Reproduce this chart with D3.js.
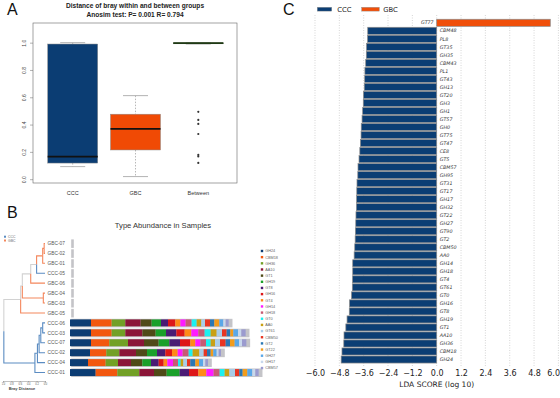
<!DOCTYPE html>
<html>
<head>
<meta charset="utf-8">
<script src="https://cdn.jsdelivr.net/npm/d3@7"></script>
<style>
  html, body { margin: 0; padding: 0; background: #fff; }
  svg { display: block; }
</style>
</head>
<body>
<div id="chart"></div>
<script>
// ---------- Panel A: bray distance boxplots ----------
const boxGroups = ['CCC', 'GBC', 'Between'];
const boxMin = [0.092, 0.019, 0.99];
const boxQ1 = [0.118, 0.214, 0.993];
const boxMedian = [0.165, 0.368, 0.997];
const boxQ3 = [0.99, 0.476, 0.999];
const boxMax = [1.0, 0.612, 1.0];
const boxFill = ['#0b3d73', '#f04a05', '#2f5a22'];
const betweenOutliers = [0.493, 0.434, 0.405, 0.331, 0.178, 0.166, 0.119];
const boxTicks = [0, 0.2, 0.4, 0.6, 0.8, 1.0];

// ---------- Panel B: dendrogram + type abundance ----------
const sampleOrder = ['GBC-07', 'GBC-02', 'GBC-01', 'CCC-05', 'GBC-06', 'GBC-04', 'GBC-03',
  'GBC-05', 'CCC-06', 'CCC-03', 'CCC-07', 'CCC-02', 'CCC-04', 'CCC-01'];

// clustering tree, h = bray distance of the merge
const dendroTree = { h: 0.98, children: [
  { h: 0.58, children: [
    { h: 0.54, children: [
      { h: 0.34, children: [
        { h: 0.2, children: [
          { h: 0.055, children: [
            { h: 0.02, children: [{ name: 'GBC-07' }, { name: 'GBC-02' }] },
            { name: 'GBC-01' }] },
          { name: 'CCC-05' }] },
        { name: 'GBC-06' }] },
      { h: 0.04, children: [{ name: 'GBC-04' }, { name: 'GBC-03' }] }] },
    { name: 'GBC-05' }] },
  { h: 0.24, children: [
    { h: 0.18, children: [
      { h: 0.14, children: [
        { h: 0.1, children: [
          { h: 0.055, children: [{ name: 'CCC-06' }, { name: 'CCC-03' }] },
          { name: 'CCC-07' }] },
        { name: 'CCC-02' }] },
      { name: 'CCC-04' }] },
    { name: 'CCC-01' }] }
] };
const distanceTicks = [1.0, 0.8, 0.6, 0.4, 0.2, 0.0];

const abundanceTypes = ['GH24', 'CBM18', 'GH36', 'AA10', 'GT1', 'GH19', 'GT8', 'GH16', 'GT4', 'GH14',
  'GH18', 'GT0', 'AA0', 'GT61', 'CBM50', 'GT2', 'GT22', 'GH27', 'GH17', 'CBM57'];
const typeColors = ['#0b3c73', '#f2570f', '#72a026', '#8b1538', '#4f4a17', '#1aa02a', '#4a1b74', '#dd1718',
  '#ff8a17', '#ff1aff', '#c85a73', '#1cf0f0', '#c9a014', '#a9cde8', '#e83522', '#2a78b5', '#f29c1c',
  '#5aa8e8', '#c8d8ec', '#9b9bcf'];
const abundanceSamples = ['CCC-06', 'CCC-03', 'CCC-07', 'CCC-02', 'CCC-04', 'CCC-01'];
const abundanceValues = [
  [63, 62, 41, 46, 33, 28, 21, 22, 15, 16, 18, 15, 14, 11, 15, 13, 15, 12, 7, 9],
  [63, 62, 41, 51, 40, 31, 31, 25, 20, 21, 19, 18, 18, 16, 14, 11, 9, 14, 10, 13],
  [63, 55, 56, 48, 44, 32, 32, 31, 15, 15, 17, 14, 13, 15, 17, 13, 14, 13, 9, 13],
  [60, 49, 39, 50, 33, 30, 25, 20, 17, 15, 18, 12, 20, 13, 10, 11, 8, 10, 6, 7],
  [54, 53, 37, 39, 34, 26, 23, 15, 11, 17, 15, 8, 8, 11, 10, 15, 11, 12, 7, 8],
  [77, 65, 66, 44, 38, 39, 28, 28, 24, 22, 18, 15, 14, 17, 13, 10, 14, 15, 9, 10]
];

// ---------- Panel C: LEfSe LDA scores ----------
const ldaFeatures = ['GT77', 'CBM48', 'PL8', 'GT35', 'GH35', 'CBM43', 'PL1', 'GT43', 'GH13', 'GT20',
  'GH3', 'GH1', 'GT57', 'GH0', 'GT75', 'GT47', 'CE8', 'GT5', 'CBM57', 'GH95', 'GT31', 'GT17', 'GH17',
  'GH32', 'GT22', 'GH27', 'GT90', 'GT2', 'CBM50', 'AA0', 'GH14', 'GH18', 'GT4', 'GT61', 'GT0', 'GH16',
  'GT8', 'GH19', 'GT1', 'AA10', 'GH36', 'CBM18', 'GH24'];
const ldaScores = [5.6, -3.40, -3.41, -3.46, -3.47, -3.50, -3.54, -3.55, -3.57, -3.61,
  -3.62, -3.65, -3.68, -3.72, -3.73, -3.76, -3.79, -3.83, -3.88, -3.89, -3.93, -3.94, -3.95,
  -3.96, -3.98, -3.99, -4.01, -4.02, -4.04, -4.07, -4.14, -4.14, -4.15, -4.16, -4.20, -4.30,
  -4.31, -4.42, -4.48, -4.57, -4.58, -4.67, -4.71];
const ldaGroups = ['CCC', 'GBC'];
const ldaColors = ['#0b3e74', '#f04f0a'];
const ldaTicks = [-6.0, -4.8, -3.6, -2.4, -1.2, 0.0, 1.2, 2.4, 3.6, 4.8, 6.0];

const W = 560, H = 398;
const sansA = 'Liberation Sans, Arial, Helvetica, sans-serif';
const sansC = 'DejaVu Sans, sans-serif';

const svg = d3.select('#chart').append('svg')
  .attr('width', W).attr('height', H)
  .attr('viewBox', `0 0 ${W} ${H}`);

// panel letters
[['A', 7, 15], ['B', 7, 218], ['C', 283, 15]].forEach(([t, x, y]) => {
  svg.append('text').attr('x', x).attr('y', y).text(t)
    .attr('font-family', sansA).attr('font-size', 16).attr('fill', '#111');
});

// ================= Panel A =================
const gA = svg.append('g').attr('font-family', sansA);
const yA = d3.scaleLinear().domain([-0.028, 1.144]).range([183, 23]);
const xA = d3.scalePoint().domain(boxGroups).range([72.7, 198.3]);
const boxW = 50;

gA.append('text').attr('x', 135).attr('y', 8).attr('text-anchor', 'middle')
  .attr('font-size', 6.6).attr('font-weight', 'bold').attr('fill', '#222')
  .text('Distance of bray within and between groups');
gA.append('text').attr('x', 135).attr('y', 16.5).attr('text-anchor', 'middle')
  .attr('font-size', 6.6).attr('font-weight', 'bold').attr('fill', '#222')
  .text('Anosim test: P= 0.001  R= 0.794');

gA.append('rect').attr('x', 33).attr('y', 23).attr('width', 204).attr('height', 160)
  .attr('fill', 'none').attr('stroke', '#666').attr('stroke-width', 0.6);

const yAxisA = gA.append('g').attr('transform', 'translate(33,0)')
  .call(d3.axisLeft(yA).tickValues(boxTicks).tickSize(3).tickFormat(d3.format('.1f')));
yAxisA.select('.domain').remove();
yAxisA.selectAll('line').attr('stroke', '#666').attr('stroke-width', 0.5);
yAxisA.selectAll('text')
  .attr('transform', 'rotate(-90)').attr('x', 0).attr('y', -7).attr('dy', 0)
  .attr('text-anchor', 'middle').attr('font-size', 5).attr('fill', '#444');

const boxG = gA.selectAll('g.box').data(boxGroups).join('g').attr('class', 'box');
boxG.each(function (grp, i) {
  const g = d3.select(this);
  const cx = xA(grp);
  // whiskers
  g.append('line').attr('x1', cx).attr('x2', cx).attr('y1', yA(boxMax[i])).attr('y2', yA(boxQ3[i]))
    .attr('stroke', '#999').attr('stroke-width', 0.7).attr('stroke-dasharray', '1.5,1.5');
  g.append('line').attr('x1', cx).attr('x2', cx).attr('y1', yA(boxQ1[i])).attr('y2', yA(boxMin[i]))
    .attr('stroke', '#999').attr('stroke-width', 0.7).attr('stroke-dasharray', '1.5,1.5');
  [boxMax[i], boxMin[i]].forEach(v => {
    g.append('line').attr('x1', cx - boxW / 4).attr('x2', cx + boxW / 4)
      .attr('y1', yA(v)).attr('y2', yA(v)).attr('stroke', '#aaa').attr('stroke-width', 0.9);
  });
  g.append('rect').attr('x', cx - boxW / 2).attr('width', boxW)
    .attr('y', yA(boxQ3[i])).attr('height', Math.max(1, yA(boxQ1[i]) - yA(boxQ3[i])))
    .attr('fill', boxFill[i]).attr('stroke', '#8a8a8a').attr('stroke-width', 0.5);
  g.append('line').attr('x1', cx - boxW / 2).attr('x2', cx + boxW / 2)
    .attr('y1', yA(boxMedian[i])).attr('y2', yA(boxMedian[i]))
    .attr('stroke', i === 2 ? '#1f3a14' : '#111').attr('stroke-width', 1.8);
  g.append('text').attr('x', cx).attr('y', 194.5).attr('text-anchor', 'middle')
    .attr('font-size', 5.5).attr('fill', '#333').text(grp);
});
gA.selectAll('circle.out').data(betweenOutliers).join('circle').attr('class', 'out')
  .attr('cx', xA('Between')).attr('cy', d => yA(d)).attr('r', 1.1).attr('fill', '#333');

// ================= Panel B =================
const gB = svg.append('g').attr('font-family', sansA);
gB.append('text').attr('x', 163).attr('y', 227.5).attr('text-anchor', 'middle')
  .attr('font-size', 7.6).attr('fill', '#333').text('Type Abundance in Samples');

const yB = d3.scaleBand().domain(sampleOrder).range([237, 379]).padding(0.3);
const xD = d3.scaleLinear().domain([0, 1]).range([45, 3]);
const groupColor = { CCC: '#5b8cc2', GBC: '#f4875c', mixed: '#d2d2d2' };

const root = d3.hierarchy(dendroTree);
root.eachAfter(n => {
  if (!n.children) {
    n.py = yB(n.data.name) + yB.bandwidth() / 2;
    n.grp = n.data.name.slice(0, 3);
  } else {
    n.py = d3.mean(n.children, c => c.py);
    const gs = new Set(n.children.map(c => c.grp));
    n.grp = gs.size === 1 ? [...gs][0] : 'mixed';
  }
  n.px = xD(n.data.h || 0);
});

gB.append('g').selectAll('path').data(root.descendants().filter(n => n.parent)).join('path')
  .attr('d', n => `M${n.parent.px},${n.parent.py}V${n.py}H${n.px}`)
  .attr('fill', 'none').attr('stroke', n => groupColor[n.grp]).attr('stroke-width', 1.1);

gB.append('g').selectAll('text').data(root.leaves()).join('text')
  .attr('x', 47.5).attr('y', n => n.py).attr('dy', '0.35em')
  .attr('font-size', 4.8).attr('fill', '#555').text(n => n.data.name);

// group legend of the tree
[['CCC', 236.7], ['GBC', 240.5]].forEach(([g, y]) => {
  gB.append('rect').attr('x', 4).attr('y', y - 1).attr('width', 2).attr('height', 2).attr('fill', groupColor[g]);
  gB.append('text').attr('x', 8).attr('y', y).attr('dy', '0.35em').attr('font-size', 3.4)
    .attr('fill', '#666').text(g);
});

const dAxis = gB.append('g').attr('transform', 'translate(0,381)')
  .call(d3.axisBottom(xD).tickValues(distanceTicks).tickSize(1.5).tickPadding(0.8)
    .tickFormat(d3.format('.1f')));
dAxis.select('.domain').attr('stroke', '#666').attr('stroke-width', 0.4);
dAxis.selectAll('line').attr('stroke', '#666').attr('stroke-width', 0.4);
dAxis.selectAll('text').attr('font-size', 2.6).attr('fill', '#555');
gB.append('text').attr('x', 22).attr('y', 389.5).attr('text-anchor', 'middle')
  .attr('font-size', 4).attr('font-weight', 'bold').attr('fill', '#444').text('Bray Distance');

// stacked abundance bars
const xB = d3.scaleLinear().domain([0, 600]).range([70, 270]);
const abundRows = sampleOrder.map(s => {
  const idx = abundanceSamples.indexOf(s);
  const row = { sample: s };
  abundanceTypes.forEach((t, j) => { row[t] = idx >= 0 ? abundanceValues[idx][j] : 0; });
  return row;
});
const stacked = d3.stack().keys(abundanceTypes)(abundRows);
const colorB = d3.scaleOrdinal().domain(abundanceTypes).range(typeColors);

gB.append('g').selectAll('rect').data(abundRows).join('rect')
  .attr('x', xB(0) + 1.2)
  .attr('y', d => yB(d.sample) - 0.6)
  .attr('width', d => xB(d3.sum(abundanceTypes, t => d[t])) - xB(0) + 2.6)
  .attr('height', yB.bandwidth() + 1.6)
  .attr('fill', '#c4c4c8');

gB.append('g').selectAll('g').data(stacked).join('g')
  .attr('fill', d => colorB(d.key))
  .selectAll('rect').data(d => d).join('rect')
  .attr('x', d => xB(d[0])).attr('y', d => yB(d.data.sample))
  .attr('width', d => xB(d[1]) - xB(d[0])).attr('height', yB.bandwidth());

const legB = gB.append('g').selectAll('g').data(abundanceTypes).join('g')
  .attr('transform', (d, i) => `translate(262,${251 + i * 6.16})`);
legB.append('rect').attr('x', -1.2).attr('y', -1.2).attr('width', 2.4).attr('height', 2.4)
  .attr('fill', d => colorB(d));
legB.append('text').attr('x', 3.3).attr('dy', '0.35em').attr('font-size', 3.8)
  .attr('fill', '#666').text(d => d);

// ================= Panel C =================
const gC = svg.append('g').attr('font-family', sansC);
const xC = d3.scaleLinear().domain([-6, 6]).range([315, 558.4]);
const yC = d3.scaleBand().domain(ldaFeatures).range([18.3, 364]).padding(0.12);
const colorC = d3.scaleOrdinal().domain(ldaGroups).range(ldaColors);

gC.append('g').selectAll('line').data(ldaTicks).join('line')
  .attr('x1', d => xC(d)).attr('x2', d => xC(d)).attr('y1', 15).attr('y2', 366)
  .attr('stroke', '#bbb').attr('stroke-width', 0.6).attr('stroke-dasharray', '1,1.5');

gC.append('g').selectAll('rect').data(ldaFeatures).join('rect')
  .attr('x', (d, i) => xC(Math.min(0, ldaScores[i])))
  .attr('y', d => yC(d))
  .attr('width', (d, i) => Math.abs(xC(ldaScores[i]) - xC(0)))
  .attr('height', yC.bandwidth())
  .attr('fill', (d, i) => colorC(ldaScores[i] > 0 ? 'GBC' : 'CCC'))
  .attr('stroke', '#8a8a8a').attr('stroke-width', 0.7);

gC.append('g').selectAll('text').data(ldaFeatures).join('text')
  .attr('x', (d, i) => ldaScores[i] < 0 ? xC(0) + 3 : xC(0) - 3)
  .attr('y', d => yC(d) + yC.bandwidth() / 2).attr('dy', '0.35em')
  .attr('text-anchor', (d, i) => ldaScores[i] < 0 ? 'start' : 'end')
  .attr('font-size', 4.8).attr('font-style', 'italic').attr('fill', '#333').text(d => d);

const xAxisC = gC.append('g').attr('transform', 'translate(0,366)')
  .call(d3.axisBottom(xC).tickValues(ldaTicks).tickSize(0).tickPadding(4)
    .tickFormat(d3.format('.1f')));
xAxisC.select('.domain').remove();
xAxisC.selectAll('text').attr('font-size', 8).attr('fill', '#222').attr('font-family', sansC);
// last label sits at the window edge: right-align it so it stays readable
xAxisC.selectAll('.tick').filter(d => d === 6).select('text')
  .attr('text-anchor', 'end').attr('x', 559.5 - xC(6));
gC.append('text').attr('x', xC(0)).attr('y', 387).attr('text-anchor', 'middle')
  .attr('font-size', 7.5).attr('fill', '#222').text('LDA SCORE (log 10)');

const legC = gC.append('g').selectAll('g').data(ldaGroups).join('g')
  .attr('transform', (d, i) => `translate(${[317.3, 361.7][i]},7.3)`);
legC.append('rect').attr('width', (d, i) => [14.4, 17.6][i]).attr('height', 3.8)
  .attr('fill', d => colorC(d)).attr('stroke', '#8a8a8a').attr('stroke-width', 0.4);
legC.append('text').attr('x', (d, i) => [20, 21.6][i]).attr('y', 1.9).attr('dy', '0.35em')
  .attr('font-size', 6.8).attr('fill', '#222').text(d => d);
</script>
</body>
</html>
